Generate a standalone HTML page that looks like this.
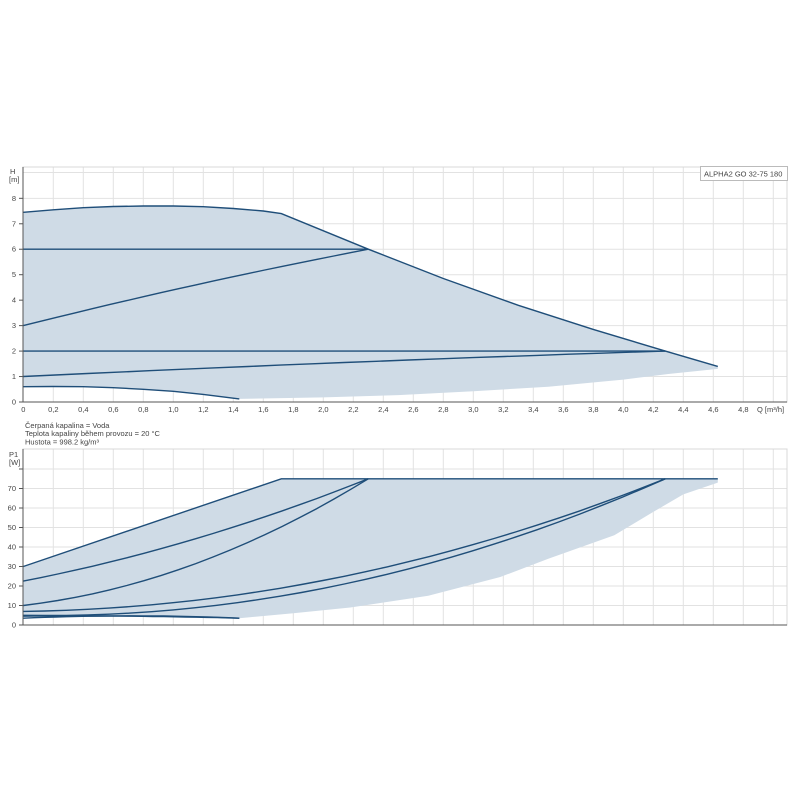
<!DOCTYPE html>
<html><head><meta charset="utf-8"><style>
html,body{margin:0;padding:0;background:#fff;}
svg{display:block;font-family:"Liberation Sans",sans-serif;}
</style></head><body>
<svg id="s" width="800" height="800" viewBox="0 0 800 800"></svg>
<script>
const s=document.getElementById('s');
let h='';
const X=q=>23.3+150*q;
const Y1=v=>402-25.46*v;
const Y2=v=>625-1.95*v;
for(let i=1;i<=25;i++){const x=X(i*0.2);h+=`<line x1="${x}" y1="167" x2="${x}" y2="402" stroke="#e2e2e2"/>`;h+=`<line x1="${x}" y1="449" x2="${x}" y2="625" stroke="#e2e2e2"/>`;}
for(let v=1;v<=8;v++){h+=`<line x1="23" y1="${Y1(v)}" x2="787" y2="${Y1(v)}" stroke="#e2e2e2"/>`;}
h+=`<line x1="23" y1="172.5" x2="787" y2="172.5" stroke="#e2e2e2"/>`;
for(let v=10;v<=80;v+=10){h+=`<line x1="23" y1="${Y2(v)}" x2="787" y2="${Y2(v)}" stroke="#e2e2e2"/>`;}
h+=`<rect x="23" y="167" width="764" height="235" fill="none" stroke="#d8d8d8"/>`;
h+=`<rect x="23" y="449" width="764" height="176" fill="none" stroke="#d8d8d8"/>`;
function P(pts,Y){return pts.map(p=>X(p[0]).toFixed(1)+','+Y(p[1]).toFixed(1)).join(' ');}
function curve(a,b,mid,n=20){const r=[];for(let i=0;i<=n;i++){const t=i/n;const q=a[0]+(b[0]-a[0])*t;const lin=a[1]+(b[1]-a[1])*t;r.push([q,lin+mid*4*t*(1-t)]);}return r;}
const maxC=[[0,7.45],[0.2,7.55],[0.4,7.63],[0.6,7.68],[0.8,7.7],[1.0,7.7],[1.2,7.67],[1.4,7.6],[1.6,7.5],[1.72,7.4],[2.3,6.0],[2.8,4.85],[3.3,3.8],[3.8,2.85],[4.28,2.0],[4.63,1.4]];
const botF=[[4.63,1.3],[4.3,1.1],[4.0,0.88],[3.5,0.6],[3.0,0.42],[2.5,0.27],[2.0,0.18],[1.44,0.12]];
const minC=[[1.44,0.12],[1.2,0.3],[1.0,0.42],[0.8,0.5],[0.6,0.56],[0.4,0.6],[0.2,0.61],[0,0.6]];
h+=`<polygon points="${P(maxC.concat(botF,minC),Y1)}" fill="#cfdbe6"/>`;
const L='fill="none" stroke="#1f4e79" stroke-width="1.4"';
h+=`<polyline points="${P(maxC,Y1)}" ${L}/>`;
h+=`<polyline points="${P(minC,Y1)}" ${L}/>`;
h+=`<polyline points="${P([[0,6],[2.3,6]],Y1)}" ${L}/>`;
h+=`<polyline points="${P(curve([0,3],[2.3,6],0.1),Y1)}" ${L}/>`;
h+=`<polyline points="${P([[0,2],[4.28,2]],Y1)}" ${L}/>`;
h+=`<polyline points="${P(curve([0,1],[4.28,2],0.05),Y1)}" ${L}/>`;
const top2=[[0,30],[1.72,75],[4.63,75]];
const bot2=[[4.63,73],[4.4,67],[4.2,58],[3.94,46],[3.5,34],[3.18,24.6],[2.7,15],[2.18,9],[1.8,6],[1.44,3.5]];
const c6=curve([0,4.5],[1.44,3.5],0.5).reverse();
h+=`<polygon points="${P(top2.concat(bot2,c6),Y2)}" fill="#cfdbe6"/>`;
h+=`<polyline points="${P(top2,Y2)}" ${L}/>`;
h+=`<polyline points="${P(curve([0,22.5],[2.3,75],-4.5),Y2)}" ${L}/>`;
h+=`<polyline points="${P(curve([0,10],[2.3,75],-11),Y2)}" ${L}/>`;
h+=`<polyline points="${P(curve([0,7],[4.28,75],-16,30),Y2)}" ${L}/>`;
h+=`<polyline points="${P(curve([0,5],[4.28,75],-19,30),Y2)}" ${L}/>`;
h+=`<polyline points="${P(curve([0,3.5],[1.44,3.5],1.2),Y2)}" ${L}/>`;
h+=`<polyline points="${P(curve([0,4.5],[1.44,3.5],0.5),Y2)}" ${L}/>`;
h+=`<line x1="23" y1="402" x2="787" y2="402" stroke="#555"/><line x1="23" y1="167" x2="23" y2="402" stroke="#555"/>`;
h+=`<line x1="23" y1="625" x2="787" y2="625" stroke="#555"/><line x1="23" y1="449" x2="23" y2="625" stroke="#555"/>`;
const T='font-size="7.5" fill="#444"';
for(let v=0;v<=8;v++){h+=`<text x="16" y="${Y1(v)+2.5}" ${T} text-anchor="end">${v}</text><line x1="19" y1="${Y1(v)}" x2="23" y2="${Y1(v)}" stroke="#555"/>`;}
for(let v=0;v<=70;v+=10){h+=`<text x="16" y="${Y2(v)+2.5}" ${T} text-anchor="end">${v}</text><line x1="19" y1="${Y2(v)}" x2="23" y2="${Y2(v)}" stroke="#555"/>`;}
h+=`<line x1="19" y1="${Y2(80)}" x2="23" y2="${Y2(80)}" stroke="#555"/>`;
for(let i=0;i<=24;i++){const q=i*0.2;const lab=i==0?'0':q.toFixed(1).replace('.',',');h+=`<text x="${X(q)}" y="412" ${T} text-anchor="middle">${lab}</text>`;}
h+=`<text x="757" y="412" ${T}>Q [m³/h]</text>`;
h+=`<text x="10" y="174" ${T}>H</text><text x="9" y="182" ${T}>[m]</text>`;
h+=`<text x="9" y="457" ${T}>P1</text><text x="9" y="465" ${T}>[W]</text>`;
h+=`<text x="25" y="428" ${T}>Čerpaná kapalina = Voda</text>`;
h+=`<text x="25" y="436" ${T}>Teplota kapaliny během provozu = 20 °C</text>`;
h+=`<text x="25" y="444.5" ${T}>Hustota = 998.2 kg/m³</text>`;
h+=`<rect x="700.5" y="166.5" width="87" height="14" fill="#fff" stroke="#bbb"/><text x="704" y="176.5" ${T}>ALPHA2 GO 32-75 180</text>`;
s.innerHTML=h;
</script>
</body></html>
